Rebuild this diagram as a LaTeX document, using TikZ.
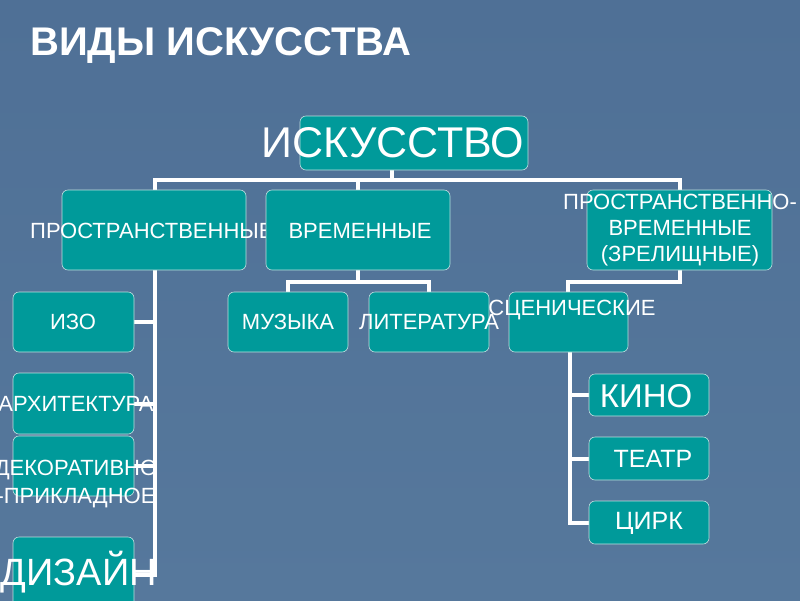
\documentclass[tikz,border=0pt]{standalone}
\usepackage{fontspec}
\setmainfont{Liberation Sans}
\begin{document}
\begin{tikzpicture}[x=1pt,y=-1pt,
  bx/.style={draw=white!75!teal, line width=0.6pt, fill=boxc, rounded corners=6pt},
  tx/.style={text=white, font=\fontsize{22}{26}\selectfont, align=center, inner sep=0pt},
  ln/.style={draw=white, line width=3.5pt}]
\definecolor{boxc}{HTML}{009A9A}
\definecolor{bga}{HTML}{4F7096}
\definecolor{bgb}{HTML}{56789C}
\useasboundingbox (0,0) rectangle (800,600);
\shade[top color=bga, bottom color=bgb] (0,0) rectangle (800,600);
\node[text=white, font=\bfseries\fontsize{40}{44}\selectfont, anchor=west, inner sep=0pt] (title) at (30,46) {ВИДЫ ИСКУССТВА};
% lines
\coordinate (j1) at (392,180);
\draw[ln] (392,170) -- (j1);
\draw[ln] (155,190) |- (680,180) -- (680,190);
\draw[ln] (358,180) -- (358,190);
\draw[ln] (155,270) -- (155,575) -- (134,575);
\draw[ln] (134,322) -- (155,322);
\draw[ln] (134,404) -- (155,404);
\draw[ln] (134,466) -- (155,466);
\draw[ln] (358,270) -- (358,282);
\draw[ln] (288,292) |- (429,282) -- (429,292);
\draw[ln] (680,270) -- (680,282) -| (568,292);
\draw[ln] (570,352) -- (570,523) -- (589,523);
\draw[ln] (570,395) -- (589,395);
\draw[ln] (570,459) -- (589,459);
% boxes
\draw[bx] (300,116) rectangle (528,170);
\node[tx, font=\fontsize{43}{46}\selectfont] (isk) at (393,143) {ИСКУССТВО};
\draw[bx] (62,190) rectangle (246,270);
\node[tx, anchor=west] (pr) at (30,231) {ПРОСТРАНСТВЕННЫЕ};
\draw[bx] (266,190) rectangle (450,270);
\node[tx] (vr) at (360,231) {ВРЕМЕННЫЕ};
\draw[bx] (587,190) rectangle (772,270);
\node[tx] (pv) at (680,230) {ПРОСТРАНСТВЕННО-\\ВРЕМЕННЫЕ\\(ЗРЕЛИЩНЫЕ)};
\draw[bx] (13,292) rectangle (134,352);
\node[tx] (izo) at (73,322) {ИЗО};
\draw[bx] (228,292) rectangle (348,352);
\node[tx] (muz) at (288,322) {МУЗЫКА};
\draw[bx] (369,292) rectangle (489,352);
\node[tx] (lit) at (429,322) {ЛИТЕРАТУРА};
\draw[bx] (509,292) rectangle (628,352);
\node[tx] (sc) at (572,310) {СЦЕНИЧЕСКИЕ};
\draw[bx] (13,373) rectangle (134,434);
\node[tx] (arh) at (76,404) {АРХИТЕКТУРА};
\draw[bx] (13,436) rectangle (134,496);
\node[tx, font=\fontsize{22}{28}\selectfont] (dek) at (76,484) {ДЕКОРАТИВНО\\-ПРИКЛАДНОЕ};
\draw[bx] (13,537) rectangle (134,610);
\node[tx, font=\fontsize{38}{40}\selectfont] (diz) at (79,572) {ДИЗАЙН};
\draw[bx] (589,374) rectangle (709,416);
\node[tx, font=\fontsize{33}{36}\selectfont] (kino) at (646,396) {КИНО};
\draw[bx] (589,437) rectangle (709,480);
\node[tx, font=\fontsize{25}{28}\selectfont] (teatr) at (653,459) {ТЕАТР};
\draw[bx] (589,501) rectangle (709,544);
\node[tx, font=\fontsize{25}{28}\selectfont] (cirk) at (649,523) {ЦИРК};
\end{tikzpicture}
\end{document}
